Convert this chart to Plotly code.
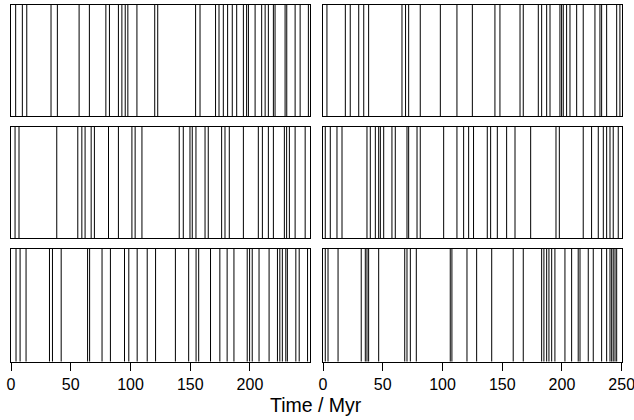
import plotly.graph_objects as go

# Event times (Myr) for each panel
panel_top_left = [3.9, 9.5, 13.2, 33.5, 38.8, 57.0, 65.6, 79.4, 82.4, 89.9, 92.8, 95.6, 97.8, 105.4,
                  120.3, 122.8, 154.5, 158.2, 171.2, 174.1, 177.7, 181.3, 185.2, 188.9, 194.5, 197.2,
                  198.7, 204.3, 209.8, 212.7, 215.4, 219.6, 221.0, 229.4, 230.8, 237.8, 242.0, 248.9]
panel_top_right = [3.3, 18.7, 22.8, 29.9, 34.1, 38.2, 66.1, 69.1, 71.7, 81.4, 98.2, 112.1, 125.0,
                   143.9, 148.1, 164.9, 167.6, 180.2, 183.0, 187.2, 190.0, 198.3, 199.7, 201.1, 203.9,
                   206.7, 212.3, 217.8, 227.6, 231.8, 233.2, 237.4, 245.8, 248.5]
panel_mid_left = [3.4, 6.7, 38.3, 55.9, 59.3, 62.0, 67.1, 69.8, 81.6, 89.9, 101.2, 103.9, 109.6,
                  140.8, 144.2, 149.8, 151.7, 154.8, 162.4, 165.1, 176.3, 179.1, 182.7, 194.5, 207.0,
                  210.4, 215.4, 219.6, 228.8, 230.7, 233.0, 237.8, 246.2]
panel_mid_right = [1.9, 6.1, 11.7, 15.9, 36.8, 39.6, 43.8, 46.6, 48.0, 50.8, 57.7, 60.5, 70.3, 71.7,
                   78.7, 81.4, 101.0, 112.1, 117.7, 121.9, 126.0, 137.5, 140.3, 145.9, 153.7, 160.7,
                   173.8, 195.0, 197.8, 217.8, 224.8, 230.4, 234.6, 237.4, 240.2, 242.9, 247.1]
panel_bot_left = [4.2, 7.6, 12.6, 32.2, 34.7, 42.0, 64.1, 65.8, 76.2, 83.2, 95.0, 98.6, 105.6, 114.0,
                  121.0, 137.6, 148.7, 154.9, 157.1, 167.0, 174.8, 180.9, 186.6, 197.7, 199.7, 201.9,
                  207.6, 216.0, 223.0, 225.0, 227.1, 230.0, 231.3, 238.4, 241.2, 248.2]
panel_bot_right = [1.9, 4.2, 12.6, 32.0, 35.4, 36.8, 38.2, 46.6, 68.4, 70.3, 73.1, 78.1, 106.5, 107.9,
                   120.5, 128.6, 141.2, 159.2, 167.6, 183.0, 184.9, 187.2, 189.1, 191.4, 194.1, 202.5,
                   208.1, 213.6, 215.1, 222.0, 226.2, 233.2, 237.4, 240.2, 241.6, 242.9, 244.4, 245.8]

left_ticks = [0, 50, 100, 150, 200]
right_ticks = [0, 50, 100, 150, 200, 250]
x_title = "Time / Myr"

panels = [panel_top_left, panel_top_right, panel_mid_left, panel_mid_right, panel_bot_left, panel_bot_right]

W, H = 634, 420
x_doms = [[11 / W, 309.7 / W], [323 / W, 621.7 / W]]
rows_px = [(5, 116), (127, 238), (249, 361.7)]
y_doms = [[1 - b / H, 1 - t / H] for (t, b) in rows_px]

fig = go.Figure()
font = dict(family="Liberation Sans, Arial, sans-serif", size=16, color="black")
title_font = dict(family="Liberation Sans, Arial, sans-serif", size=19.5, color="black")

for i, events in enumerate(panels):
    r, c = divmod(i, 2)
    idx = i + 1
    xs, ys = [], []
    for t in events:
        xs += [t, t, None]
        ys += [0, 1, None]
    xa = "x" if idx == 1 else f"x{idx}"
    ya = "y" if idx == 1 else f"y{idx}"
    fig.add_trace(go.Scatter(x=xs, y=ys, mode="lines", line=dict(color="black", width=1),
                             xaxis=xa, yaxis=ya, showlegend=False, hoverinfo="skip"))
    bottom = (r == 2)
    xkey = "xaxis" if idx == 1 else f"xaxis{idx}"
    ykey = "yaxis" if idx == 1 else f"yaxis{idx}"
    fig.layout[xkey] = dict(
        domain=x_doms[c], anchor=ya, range=[0, 250], showgrid=False, zeroline=False,
        showline=True, mirror=True, linecolor="black", linewidth=1,
        ticks="outside" if bottom else "", ticklen=8, tickcolor="black", tickwidth=1,
        tickvals=(left_ticks if c == 0 else right_ticks) if bottom else [],
        showticklabels=bottom, tickfont=font, ticklabeloverflow="allow", automargin=False,
    )
    fig.layout[ykey] = dict(
        domain=y_doms[r], anchor=xa, range=[0, 1], showgrid=False, zeroline=False,
        showline=True, mirror=True, linecolor="black", linewidth=1,
        showticklabels=False, ticks="", automargin=False,
    )

fig.add_annotation(text=x_title, x=316 / W, y=1 - 405 / H, xref="paper", yref="paper",
                   showarrow=False, font=title_font, xanchor="center", yanchor="middle")

fig.update_layout(width=W, height=H, margin=dict(l=0, r=0, t=0, b=0, autoexpand=False),
                  paper_bgcolor="white", plot_bgcolor="white")

fig.write_html("out.html", config={"displayModeBar": False},
               post_script="document.body.style.margin='0';document.body.style.overflow='hidden';")
